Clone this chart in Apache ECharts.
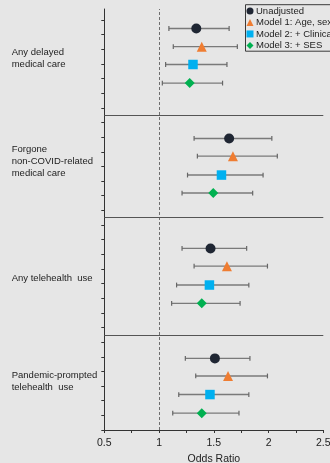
<!DOCTYPE html>
<html>
<head>
<meta charset="utf-8">
<script src="https://cdn.jsdelivr.net/npm/echarts@6/dist/echarts.min.js"></script>
<style>
  html, body { margin: 0; padding: 0; background: #e6e6e6; }
  #chart { width: 330px; height: 463px; }
</style>
</head>
<body>
<div id="chart"></div>
<script>
// Outcome groups (left-hand labels) and where each label block is centred on the row scale
const categories = ['Any delayed\nmedical care', 'Forgone\nnon-COVID-related\nmedical care', 'Any telehealth  use', 'Pandemic-prompted\ntelehealth  use'];
const categoryLabelRows = [25.4, 18.35, 10.36, 3.3];
// Horizontal dividers between outcome groups
const dividerRows = [21.5, 14.5, 6.5];

// Model names
const modelNames = ['Unadjusted', 'Model 1: Age, sex', 'Model 2: + Clinical', 'Model 3: + SES'];

// Odds ratios, 95% CI bounds and row positions, one array per model (group order as above)
const orUnadjusted = [1.34, 1.64, 1.47, 1.51];
const loUnadjusted = [1.09, 1.32, 1.21, 1.24];
const hiUnadjusted = [1.64, 2.03, 1.80, 1.83];
const rowUnadjusted = [27.42, 19.91, 12.40, 4.89];

const orModel1 = [1.39, 1.675, 1.62, 1.63];
const loModel1 = [1.13, 1.35, 1.32, 1.335];
const hiModel1 = [1.715, 2.08, 1.99, 1.99];
const rowModel1 = [26.18, 18.70, 11.19, 3.69];

const orModel2 = [1.31, 1.57, 1.46, 1.465];
const loModel2 = [1.06, 1.26, 1.16, 1.18];
const hiModel2 = [1.62, 1.95, 1.82, 1.82];
const rowModel2 = [24.96, 17.41, 9.90, 2.42];

const orModel3 = [1.28, 1.495, 1.39, 1.39];
const loModel3 = [1.03, 1.21, 1.115, 1.125];
const hiModel3 = [1.58, 1.855, 1.74, 1.73];
const rowModel3 = [23.69, 16.18, 8.65, 1.15];

// X axis tick labels
const xTickLabels = ['0.5', '1', '1.5', '2', '2.5'];

const models = [
  { name: modelNames[0], or: orUnadjusted, lo: loUnadjusted, hi: hiUnadjusted, row: rowUnadjusted, symbol: 'circle', size: 10, color: '#1f2633' },
  { name: modelNames[1], or: orModel1, lo: loModel1, hi: hiModel1, row: rowModel1, symbol: 'triangle', size: 10, color: '#ef7d32' },
  { name: modelNames[2], or: orModel2, lo: loModel2, hi: hiModel2, row: rowModel2, symbol: 'rect', size: 9.5, color: '#00b0f0' },
  { name: modelNames[3], or: orModel3, lo: loModel3, hi: hiModel3, row: rowModel3, symbol: 'diamond', size: 10, color: '#00b050' }
];

const yTickValues = [];
for (let v = 0; v <= 28; v++) yTickValues.push(v);

const FONT = '"Liberation Sans", Arial, sans-serif';
const TEXT = '#222';

// Horizontal CI whiskers with end caps
function renderWhisker(params, api) {
  const y = api.value(2);
  const a = api.coord([api.value(0), y]);
  const b = api.coord([api.value(1), y]);
  const cap = 2.4;
  const style = { stroke: '#7a7a7a', lineWidth: 1.4 };
  return {
    type: 'group',
    children: [
      { type: 'line', shape: { x1: a[0], y1: a[1], x2: b[0], y2: b[1] }, style: style },
      { type: 'line', shape: { x1: a[0], y1: a[1] - cap, x2: a[0], y2: a[1] + cap }, style: { stroke: '#666', lineWidth: 1.2 } },
      { type: 'line', shape: { x1: b[0], y1: b[1] - cap, x2: b[0], y2: b[1] + cap }, style: { stroke: '#666', lineWidth: 1.2 } }
    ]
  };
}

const series = [];
models.forEach(function (m) {
  series.push({
    type: 'custom',
    name: m.name + ' CI',
    renderItem: renderWhisker,
    encode: { x: [0, 1], y: 2 },
    data: m.lo.map(function (lo, i) { return [lo, m.hi[i], m.row[i]]; }),
    z: 2,
    silent: true
  });
});
models.forEach(function (m) {
  series.push({
    type: 'scatter',
    name: m.name,
    symbol: m.symbol,
    symbolSize: m.size,
    itemStyle: { color: m.color, opacity: 1 },
    data: m.or.map(function (v, i) { return [v, m.row[i]]; }),
    z: 5
  });
});
// Reference line at OR = 1 and group dividers
series.push({
  type: 'line',
  name: 'refs',
  data: [],
  silent: true,
  markLine: {
    symbol: 'none',
    silent: true,
    label: { show: false },
    animation: false,
    data: [
      { xAxis: 1, lineStyle: { type: [3, 2], color: '#6e6e6e', width: 1 } }
    ].concat(dividerRows.map(function (r) {
      return { yAxis: r, lineStyle: { type: 'solid', color: '#555', width: 1 } };
    }))
  }
});

const chart = echarts.init(document.getElementById('chart'), null, { renderer: 'canvas' });
chart.setOption({
  backgroundColor: '#e6e6e6',
  animation: false,
  textStyle: { fontFamily: FONT },
  grid: { left: 104.3, right: 6.7, top: 9, bottom: 33, containLabel: false, outerBoundsMode: 'none' },
  legend: {
    orient: 'vertical',
    left: 245.5,
    top: 4.7,
    data: modelNames,
    itemWidth: 7,
    itemHeight: 7,
    itemGap: 0,
    padding: [0.5, 4, 0, 1],
    borderColor: '#3a3a3a',
    borderWidth: 1,
    selectedMode: false,
    textStyle: { fontFamily: FONT, fontSize: 9.5, color: TEXT, lineHeight: 11.5, padding: [0, 0, 0, -2.5] }
  },
  xAxis: {
    type: 'value',
    min: 0.5,
    max: 2.5,
    interval: 0.25,
    name: 'Odds Ratio',
    nameLocation: 'middle',
    nameGap: 22.5,
    nameTextStyle: { fontFamily: FONT, fontSize: 10.5, color: TEXT },
    axisLine: { show: true, lineStyle: { color: '#333', width: 1 } },
    axisTick: { show: true, length: 3, lineStyle: { color: '#333' } },
    splitLine: { show: false },
    axisLabel: {
      fontFamily: FONT, fontSize: 10.5, color: TEXT, margin: 8,
      formatter: function (v) {
        const idx = Math.round((v - 0.5) / 0.5);
        return Math.abs(v - (0.5 + idx * 0.5)) < 1e-6 ? xTickLabels[idx] : '';
      }
    }
  },
  yAxis: {
    type: 'value',
    min: 0,
    max: 28.75,
    axisLine: { show: true, lineStyle: { color: '#333', width: 1 } },
    axisTick: { show: true, length: 3, lineStyle: { color: '#333' }, customValues: yTickValues },
    splitLine: { show: false },
    axisLabel: {
      show: true,
      customValues: categoryLabelRows,
      formatter: function (v) {
        const i = categoryLabelRows.indexOf(v);
        return i >= 0 ? categories[i] : '';
      },
      align: 'left',
      margin: 92.6,
      fontFamily: FONT,
      fontSize: 9.5,
      lineHeight: 11.7,
      color: TEXT
    }
  },
  series: series
});
</script>
</body>
</html>
